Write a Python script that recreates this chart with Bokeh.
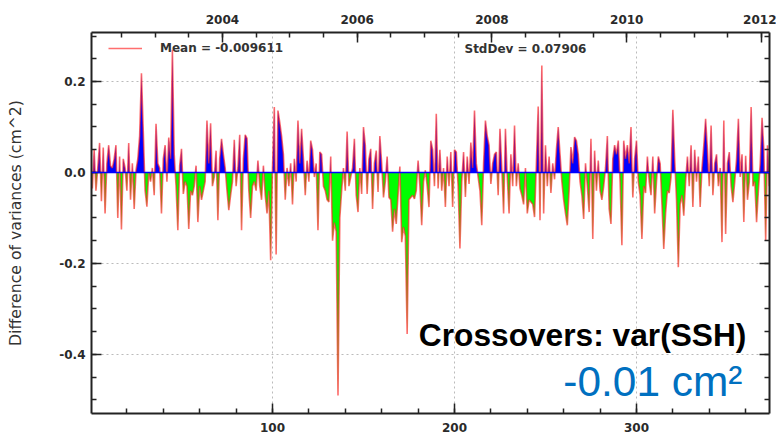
import numpy as np
from bokeh.plotting import figure
from bokeh.models import (Range1d, LinearAxis, SingleIntervalTicker, CustomJSTickFormatter,
                          Span, Label, Legend, LegendItem)
from bokeh.embed import file_html
from bokeh.resources import INLINE

# ---- data: difference of variances per cycle (cm^2) ----
values = [
    -0.035, 0.050, -0.040, 0.010, 0.065, -0.063, 0.055, -0.090, 0.020, 0.060,
    0.015, 0.010, 0.030, 0.060, -0.100, 0.035, -0.125, 0.030, 0.010, -0.040,
    0.065, -0.060, 0.020, -0.080, 0.005, 0.030, 0.080, 0.218, 0.090, -0.040,
    -0.075, 0.000, -0.020, 0.010, -0.050, 0.107, 0.020, 0.010, -0.090, 0.030,
    0.060, -0.020, 0.077, 0.030, 0.270, 0.040, -0.030, -0.127, 0.015, 0.052,
    -0.047, -0.020, -0.030, -0.124, -0.040, -0.050, -0.030, 0.015, -0.109, -0.030,
    -0.060, -0.040, -0.020, 0.114, 0.020, 0.108, -0.030, -0.010, 0.048, -0.105,
    0.030, 0.074, 0.040, 0.010, -0.040, -0.083, -0.050, -0.020, 0.072, -0.030,
    0.010, 0.083, -0.127, 0.030, 0.083, 0.075, -0.040, -0.100, -0.030, -0.020,
    -0.040, 0.026, -0.030, -0.060, 0.015, -0.050, -0.090, -0.040, -0.193, 0.010,
    0.144, -0.180, 0.136, 0.110, 0.080, 0.040, -0.060, 0.010, -0.030, 0.020,
    -0.070, 0.030, -0.020, 0.114, 0.020, 0.096, 0.030, -0.050, 0.026, -0.020,
    0.070, 0.050, -0.010, 0.020, -0.127, 0.045, 0.040, -0.030, -0.040, -0.060,
    -0.065, 0.035, -0.150, -0.110, -0.130, -0.490, -0.100, -0.040, 0.010, -0.040,
    0.090, -0.030, -0.010, 0.010, 0.074, -0.050, -0.087, 0.010, -0.047, 0.100,
    0.060, -0.047, 0.030, 0.052, -0.080, 0.020, 0.048, -0.043, 0.080, 0.020,
    -0.055, -0.020, 0.035, -0.055, -0.060, -0.130, -0.080, -0.113, -0.050, 0.013,
    -0.153, -0.120, -0.140, -0.355, -0.060, -0.055, -0.050, -0.058, -0.040, 0.026,
    -0.030, -0.116, -0.020, 0.005, -0.030, -0.076, 0.070, 0.050, -0.030, 0.129,
    -0.035, 0.050, -0.040, 0.010, -0.076, 0.035, -0.030, 0.045, -0.076, 0.050,
    0.045, -0.030, -0.167, -0.020, 0.045, -0.054, 0.035, -0.025, 0.066, 0.010,
    0.136, 0.020, -0.010, -0.040, -0.116, 0.020, 0.114, 0.080, 0.060, -0.025,
    0.020, 0.040, 0.045, -0.050, 0.096, 0.010, -0.090, 0.096, -0.010, -0.090,
    0.040, -0.030, 0.103, -0.030, 0.020, -0.035, -0.050, -0.070, 0.010, -0.090,
    -0.060, -0.065, -0.070, -0.098, 0.020, 0.145, -0.105, 0.235, -0.090, 0.060,
    -0.030, 0.035, -0.045, 0.020, -0.015, 0.050, 0.100, 0.040, -0.020, -0.060,
    -0.090, -0.116, -0.040, 0.056, 0.020, 0.078, 0.070, 0.040, -0.020, -0.050,
    -0.102, 0.020, -0.030, -0.087, 0.074, -0.146, 0.048, -0.040, 0.026, -0.040,
    -0.060, -0.030, 0.010, 0.080, -0.080, -0.113, 0.030, 0.060, 0.040, 0.070,
    -0.020, -0.160, 0.070, 0.030, 0.060, 0.020, 0.100, -0.055, 0.030, 0.070,
    -0.020, -0.050, -0.146, -0.030, -0.045, 0.035, -0.020, -0.050, 0.035, -0.090,
    -0.020, 0.035, 0.020, -0.070, -0.168, -0.090, -0.040, -0.045, -0.010, 0.138,
    0.030, -0.060, -0.208, -0.070, -0.050, -0.095, -0.020, 0.035, -0.030, 0.060,
    -0.076, 0.050, -0.020, 0.035, -0.076, 0.010, 0.060, 0.118, 0.050, -0.030,
    0.103, -0.050, 0.020, 0.040, -0.030, 0.010, -0.153, 0.114, -0.135, 0.020,
    0.045, -0.030, -0.065, -0.020, 0.030, 0.118, -0.010, 0.040, -0.109, 0.037,
    -0.060, -0.020, 0.144, -0.030, -0.020, -0.109, -0.040, 0.020, 0.120, 0.050,
    -0.150, 0.060, -0.030,
]
cycles = list(range(1, len(values) + 1))

mean_text = "Mean = -0.009611"
std_text = "StdDev = 0.07906"
ylabel = "Difference of variances (cm^2)"
title_text = "Crossovers: var(SSH)"
value_text = "-0.01 cm\u00b2"

x_bounds = (0.55, 373.1)
y_bounds = (-0.5297, 0.3077)
year_bounds = (2002.056, 2012.119)

# ---- fill geometry: insert zero crossings so fills follow the line ----
fx, fy = [], []
for i, (c, v) in enumerate(zip(cycles, values)):
    if i > 0:
        pv = values[i - 1]
        if pv * v < 0:
            pc = cycles[i - 1]
            fx.append(pc + (c - pc) * pv / (pv - v))
            fy.append(0.0)
    fx.append(c)
    fy.append(v)
fx = np.array(fx)
fy = np.array(fy)

p = figure(width=776, height=439, output_backend="svg", toolbar_location=None,
           x_range=Range1d(*x_bounds), y_range=Range1d(*y_bounds),
           min_border_left=91, min_border_right=7, min_border_top=32, min_border_bottom=26,
           x_axis_location=None, y_axis_location=None)
p.outline_line_color = None
p.background_fill_color = "white"
p.extra_x_ranges = {"year": Range1d(*year_bounds)}

axis_color = "#222222"
lab_font = "DejaVu Sans"

def style_axis(ax, labels=True):
    ax.axis_line_color = axis_color
    ax.axis_line_width = 2
    ax.major_tick_line_color = axis_color
    ax.minor_tick_line_color = axis_color
    ax.major_tick_line_width = 1.5
    ax.minor_tick_line_width = 1.5
    ax.major_tick_in = 10
    ax.major_tick_out = 0
    ax.minor_tick_in = 5
    ax.minor_tick_out = 0
    ax.major_label_text_font = lab_font
    ax.major_label_text_font_style = "bold"
    ax.major_label_text_font_size = "12px" if labels else "0px"
    ax.major_label_text_color = "#2a2a2a"

fmt1 = CustomJSTickFormatter(code="return Math.abs(tick) < 1e-9 ? '0.0' : tick.toFixed(1);")
fmt0 = CustomJSTickFormatter(code="return tick.toFixed(0);")
empty = CustomJSTickFormatter(code="return '';")

ytick = SingleIntervalTicker(interval=0.2, num_minor_ticks=4)
xtick = SingleIntervalTicker(interval=100, num_minor_ticks=5)
yrtick = SingleIntervalTicker(interval=2, num_minor_ticks=4)

left = LinearAxis(ticker=ytick, formatter=fmt1, axis_label=ylabel)
style_axis(left)
left.major_label_standoff = 6
left.axis_label_standoff = 31
left.axis_label_text_font = lab_font
left.axis_label_text_font_style = "normal"
left.axis_label_text_font_size = "15.7px"
left.axis_label_text_color = "#333333"
p.add_layout(left, "left")

right = LinearAxis(ticker=ytick, formatter=empty)
style_axis(right, labels=False)
right.major_label_standoff = 0
p.add_layout(right, "right")

bottom = LinearAxis(ticker=xtick, formatter=fmt0)
style_axis(bottom)
bottom.major_label_standoff = 9
p.add_layout(bottom, "below")

top = LinearAxis(ticker=yrtick, formatter=fmt0, x_range_name="year")
style_axis(top)
top.major_label_standoff = 9
p.add_layout(top, "above")

# grid
p.xgrid.ticker = xtick
p.ygrid.ticker = ytick
for g in (p.xgrid, p.ygrid):
    g.grid_line_color = "#bbbbbb"
    g.grid_line_dash = "2 3"
    g.grid_line_width = 1

# fills and line
p.varea(x=fx, y1=0, y2=np.maximum(fy, 0), fill_color="#0000ff")
p.varea(x=fx, y1=0, y2=np.minimum(fy, 0), fill_color="#00ff00")
p.add_layout(Span(location=0, dimension="width", line_color="#0000ff", line_width=1.5))
line_r = p.line(cycles, values, line_color="#ff2020", line_alpha=0.65, line_width=1.6)

legend = Legend(items=[LegendItem(label=mean_text, renderers=[line_r])],
                location=(17, 355), padding=0, spacing=0, margin=0,
                glyph_width=34, glyph_height=20, label_height=20, label_standoff=18,
                border_line_color=None, background_fill_alpha=0,
                label_text_font=lab_font, label_text_font_style="bold",
                label_text_font_size="12px", label_text_color="#333333")
p.add_layout(legend, "center")

p.add_layout(Label(x=205.5, y=0.2725, text=std_text, text_baseline="middle",
                   text_font=lab_font, text_font_style="bold", text_font_size="12px",
                   text_color="#333333"))
p.add_layout(Label(x=360.4, y=-0.357, text=title_text, text_align="right",
                   text_baseline="middle", text_font="Liberation Sans",
                   text_font_style="bold", text_font_size="31.7px", text_color="#000000"))
p.add_layout(Label(x=358.2, y=-0.459, text=value_text, text_align="right",
                   text_baseline="middle", text_font="Liberation Sans",
                   text_font_style="normal", text_font_size="42.4px", text_color="#0070C0"))

open("out.html", "w").write(file_html(p, INLINE))
